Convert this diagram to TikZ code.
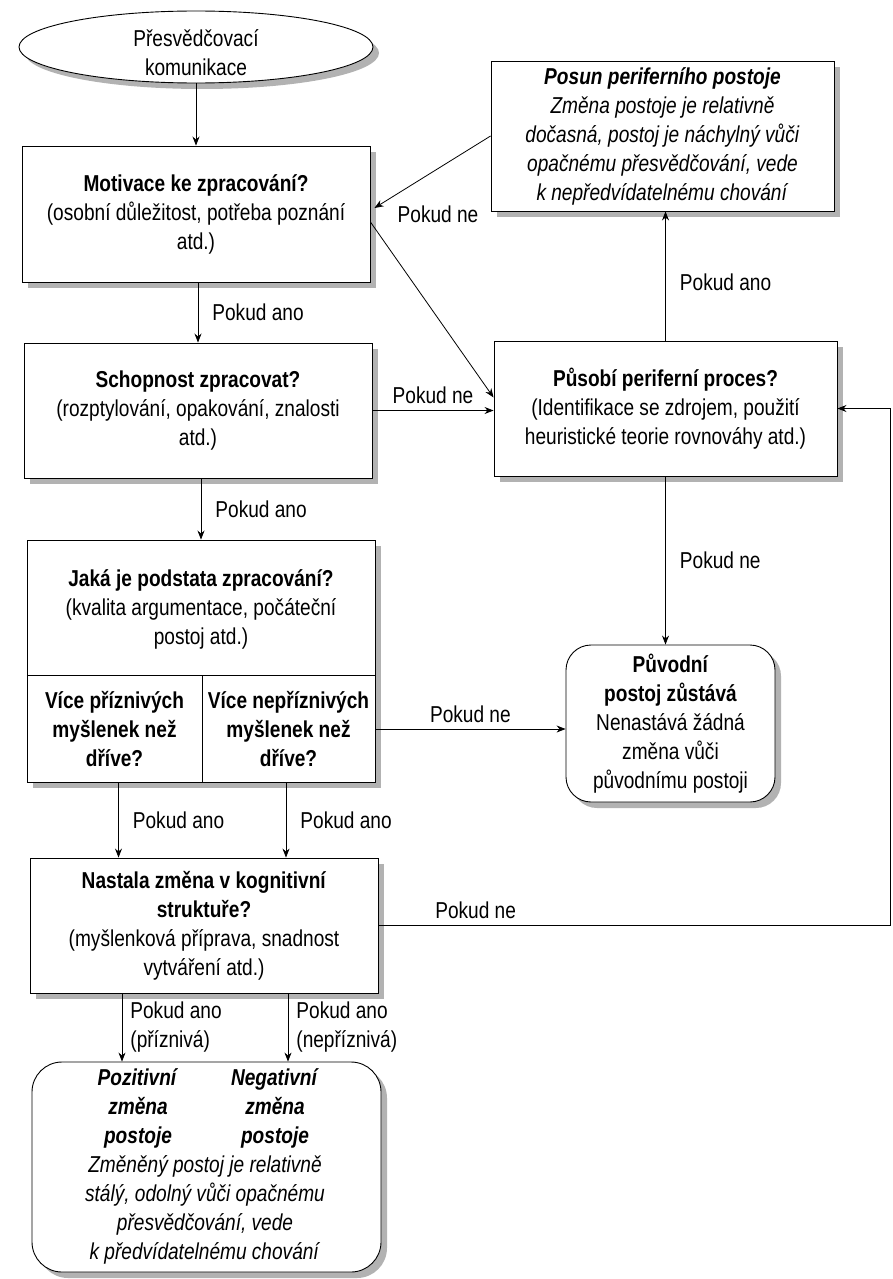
\documentclass[tikz,border=0pt]{standalone}
\usepackage{fontspec}
\setmainfont{Liberation Sans}[FakeStretch=0.83]
\usetikzlibrary{arrows.meta,shadows,shapes.geometric,calc}
\begin{document}
\begin{tikzpicture}[x=1pt,y=-1pt,
  every node/.style={font=\fontsize{23}{29}\selectfont, inner sep=0pt, align=center},
  box/.style={draw, line width=0.9pt, fill=white,
    drop shadow={shadow xshift=6pt,shadow yshift=-6pt,fill=black!30,opacity=1}},
  arr/.style={-{Stealth[length=9pt,width=7pt]}, line width=0.8pt},
  ln/.style={line width=0.8pt},
  lblr/.style={anchor=west, xshift=14pt},
  lbla/.style={anchor=south, yshift=6pt}
]
\useasboundingbox (0,0) rectangle (892,1279);

% nodes
\node[ellipse, box, minimum width=354pt, minimum height=72pt] (E) at (196,47) {};
\node (E1) at (196,53) {Přesvědčovací\\komunikace};

\node[box, minimum width=348pt, minimum height=136pt] (M) at (196,214)
  {\textbf{Motivace ke zpracování?}\\(osobní důležitost, potřeba poznání\\atd.)};

\node[box, minimum width=348pt, minimum height=135pt] (S) at (198,410.5)
  {\textbf{Schopnost zpracovat?}\\(rozptylování, opakování, znalosti\\atd.)};

\node[box, minimum width=348pt, minimum height=242pt] (J) at (201,661) {};
\node (J1) at (201,609) {\textbf{Jaká je podstata zpracování?}\\(kvalita argumentace, počáteční\\postoj atd.)};
\node[minimum width=175pt, minimum height=106pt] (J2) at (114.5,729)
  {\textbf{Více příznivých}\\\textbf{myšlenek než}\\\textbf{dříve?}};
\node[minimum width=173pt, minimum height=106pt] (J3) at (288.5,729)
  {\textbf{Více nepříznivých}\\\textbf{myšlenek než}\\\textbf{dříve?}};
\draw[ln] (J2.north west) -- (J3.north east);
\draw[ln] (J2.north east) -- (J2.south east);

\node[box, minimum width=348pt, minimum height=135pt] (N) at (204,925.5)
  {\textbf{Nastala změna v kognitivní}\\\textbf{struktuře?}\\(myšlenková příprava, snadnost\\vytváření atd.)};

\node[box, rounded corners=30pt, minimum width=349pt, minimum height=210pt] (B) at (206.5,1167) {};
\node (B1) at (138,1108.5) {\textbf{\textit{Pozitivní}}\\\textbf{\textit{změna}}\\\textbf{\textit{postoje}}};
\node (B2) at (275,1108.5) {\textbf{\textit{Negativní}}\\\textbf{\textit{změna}}\\\textbf{\textit{postoje}}};
\node (B3) at (205,1210) {\textit{Změněný postoj je relativně}\\\textit{stálý, odolný vůči opačnému}\\\textit{přesvědčování, vede}\\\textit{k předvídatelnému chování}};

\node[box, minimum width=343pt, minimum height=150pt] (P) at (662.5,136)
  {\textbf{\textit{Posun periferního postoje}}\\\textit{Změna postoje je relativně}\\\textit{dočasná, postoj je náchylný vůči}\\\textit{opačnému přesvědčování, vede}\\\textit{k nepředvídatelnému chování}};

\node[box, minimum width=343pt, minimum height=135pt] (U) at (665.5,408.5)
  {\textbf{Působí periferní proces?}\\(Identifikace se zdrojem, použití\\heuristické teorie rovnováhy atd.)};

\node[box, rounded corners=25pt, minimum width=209pt, minimum height=157pt] (O) at (670.5,723.5)
  {\textbf{Původní}\\\textbf{postoj zůstává}\\Nenastává žádná\\změna vůči\\původnímu postoji};

\coordinate (fb) at (890,924);

% connectors
\draw[arr] (E.south) -- (E.south |- M.north);
\draw[arr] (M.south -| S.north) -- node[lblr] (l1) {Pokud ano} (S.north);
\draw[arr] (S.south -| J.north) -- node[lblr] (l2) {Pokud ano} (J.north);
\draw[arr] ([xshift=4pt]J2.south) -- node[lblr] (l3) {Pokud ano} ([xshift=4pt]J2.south |- N.north);
\draw[arr] ([xshift=-2.5pt]J3.south) -- node[lblr] (l4) {Pokud ano} ([xshift=-2.5pt]J3.south |- N.north);
\draw[arr] ([xshift=-82pt]N.south) -- node[anchor=west, xshift=8pt, align=left] (l5) {Pokud ano\\(příznivá)} ([xshift=-82pt]N.south |- B.north);
\draw[arr] ([xshift=84pt]N.south) -- node[anchor=west, xshift=8pt, align=left] (l6) {Pokud ano\\(nepříznivá)} ([xshift=84pt]N.south |- B.north);

\draw[arr] (P.west) -- ([yshift=6pt,xshift=4pt]M.east);
\node (l7) at (438,214) {Pokud ne};
\draw[arr] ([yshift=-8pt]M.east) -- ([yshift=11pt]U.west);
\draw[arr] (S.east) -- node[lbla] (l8) {Pokud ne} (S.east -| U.west);
\draw[arr] (U.north) -- node[lblr, pos=0.45] (l9) {Pokud ano} (U.north |- P.south);
\draw[arr] (U.south) -- node[lblr] (l10) {Pokud ne} (U.south |- O.north);
\draw[arr] (J3.east) -- node[lbla] (l11) {Pokud ne} (J3.east -| O.west);
\draw[arr] (N.east) -- node[lbla, pos=0.19] (l12) {Pokud ne} (N.east -| fb) |- (U.east);
\end{tikzpicture}
\end{document}
